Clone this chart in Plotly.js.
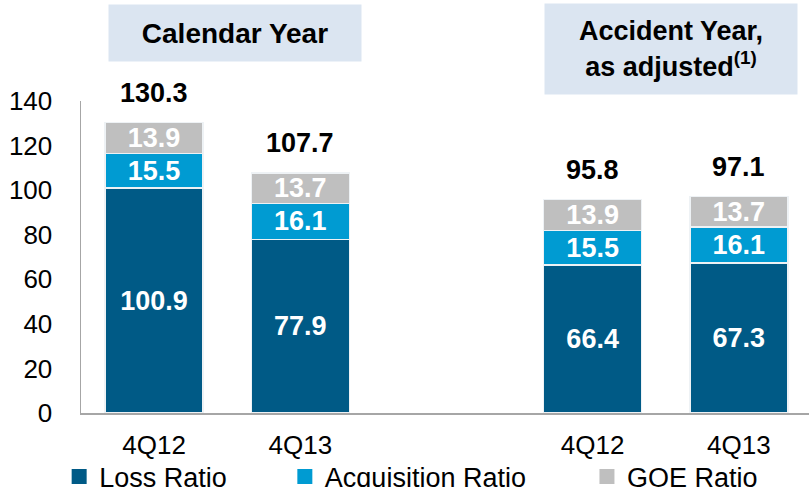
<!DOCTYPE html>
<html>
<head>
<meta charset="utf-8">
<script src="https://cdn.plot.ly/plotly-3.0.1.min.js"></script>
<style>html,body{margin:0;padding:0;background:#fff;}#chart{width:809px;height:487px;}</style>
</head>
<body>
<div id="chart"></div>
<script>
// Data
const positions = [0, 1, 3, 4];
const tickLabels = ["4Q12", "4Q13", "4Q12", "4Q13"];
const lossRatio = [100.9, 77.9, 66.4, 67.3];
const acquisitionRatio = [15.5, 16.1, 15.5, 16.1];
const goeRatio = [13.9, 13.7, 13.9, 13.7];
const seriesNames = ["Loss Ratio", "Acquisition Ratio", "GOE Ratio"];
const groupTitles = ["Calendar Year", "Accident Year,<br>as adjusted<sup>(1)</sup>"];

const FONT = '"Liberation Sans", Arial, sans-serif';
const colors = ["#005a86", "#009bd2", "#bfbfbf"];
const series = [lossRatio, acquisitionRatio, goeRatio];
const legends = ["legend", "legend2", "legend3"];

const traces = series.map((vals, i) => ({
  type: "bar",
  x: positions,
  y: vals,
  name: seriesNames[i],
  showlegend: false,
  width: 0.67,
  marker: { color: colors[i], line: { color: "#eef2f5", width: 1.5 } },
  text: vals.map(v => v.toFixed(1)),
  textposition: "inside",
  insidetextanchor: "middle",
  textangle: 0,
  textfont: { family: FONT, size: 27, color: "#ffffff", weight: "bold" },
  hoverinfo: "skip"
}));

// legend entries (larger square swatches, as in the reference)
seriesNames.forEach((name, i) => {
  traces.push({
    type: "scatter", mode: "markers", x: [null], y: [null],
    name: name, legend: legends[i], showlegend: true,
    marker: { symbol: "square", size: 15, color: colors[i] },
    hoverinfo: "skip"
  });
});

const totals = positions.map((_, k) => lossRatio[k] + acquisitionRatio[k] + goeRatio[k]);

const annotations = totals.map((t, k) => ({
  x: positions[k], y: t, xref: "x", yref: "y",
  text: "<b>" + t.toFixed(1) + "</b>",
  showarrow: false, yanchor: "middle", yshift: 30,
  font: { family: FONT, size: 27, color: "#000000" }
}));

annotations.push({
  xref: "paper", yref: "paper", x: 0.2115, y: 1.218,
  xanchor: "center", yanchor: "middle",
  width: 250, height: 54, bgcolor: "#dbe5f1",
  text: "<b>" + groupTitles[0] + "</b>", showarrow: false,
  font: { family: FONT, size: 28, color: "#000000" }
});
annotations.push({
  xref: "paper", yref: "paper", x: 0.8104, y: 1.1667,
  xanchor: "center", yanchor: "middle",
  width: 250, height: 88, bgcolor: "#dbe5f1",
  text: "<b>" + groupTitles[1] + "</b>", showarrow: false,
  font: { family: FONT, size: 27, color: "#000000" }
});

const legendBase = {
  orientation: "h", yanchor: "middle", xanchor: "left", y: -0.205,
  bgcolor: "rgba(0,0,0,0)", borderwidth: 0,
  font: { family: FONT, size: 27, color: "#000000" }
};

const layout = {
  width: 809, height: 487,
  margin: { l: 81, r: 0, t: 101, b: 74, autoexpand: false },
  paper_bgcolor: "#ffffff", plot_bgcolor: "#ffffff",
  barmode: "stack",
  showlegend: true,
  legend: Object.assign({}, legendBase, { x: -0.030 }),
  legend2: Object.assign({}, legendBase, { x: 0.280 }),
  legend3: Object.assign({}, legendBase, { x: 0.695 }),
  uniformtext: { mode: "show", minsize: 27 },
  xaxis: {
    range: [-0.5, 4.48], tickvals: positions, ticktext: tickLabels,
    showgrid: false, zeroline: false, showline: true, linecolor: "#a6a6a6", linewidth: 1.5,
    ticks: "outside", ticklen: 8, tickcolor: "rgba(0,0,0,0)",
    tickfont: { family: FONT, size: 26, color: "#000000" }, fixedrange: true
  },
  yaxis: {
    range: [0, 140], dtick: 20, tick0: 0,
    showgrid: false, zeroline: false, showline: true, linecolor: "#a6a6a6", linewidth: 1.5,
    ticks: "outside", ticklen: 22, tickcolor: "rgba(0,0,0,0)",
    tickfont: { family: FONT, size: 26, color: "#000000" }, fixedrange: true
  },
  annotations: annotations
};

Plotly.newPlot("chart", traces, layout, { displayModeBar: false, staticPlot: true });
</script>
</body>
</html>
